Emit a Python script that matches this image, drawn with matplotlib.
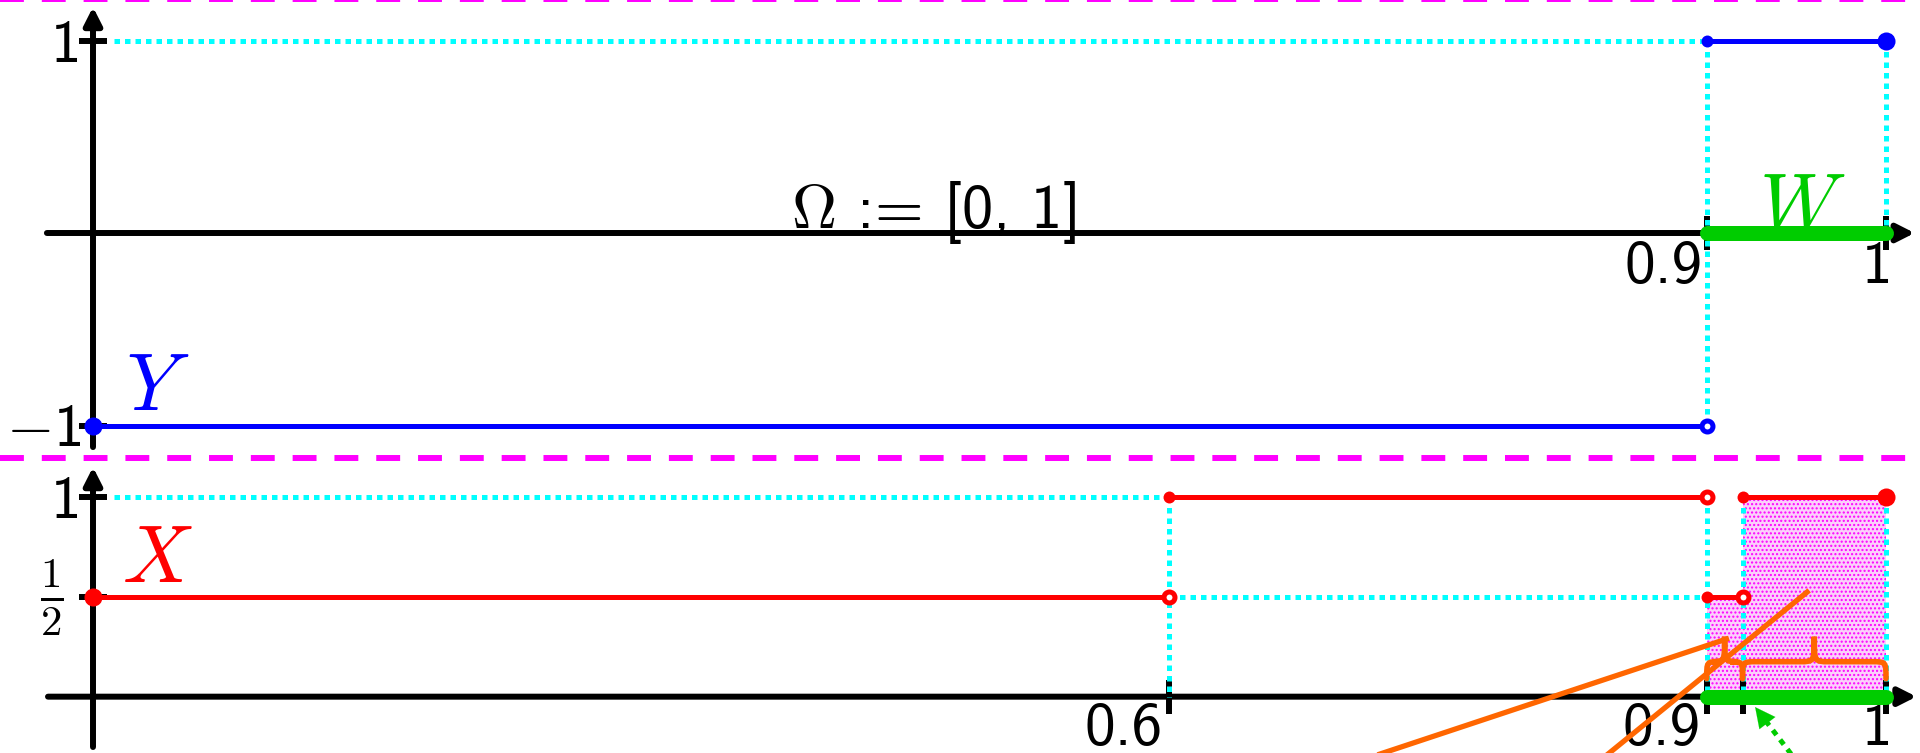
import matplotlib.pyplot as plt
from matplotlib.lines import Line2D
from matplotlib.path import Path
from matplotlib.patches import PathPatch

plt.rcParams['mathtext.fontset'] = 'cm'

# Y on Omega = [0, 1]
y_edges = [0.0, 0.9, 1.0]
y_vals = [-1, 1]
# X, piecewise constant
x_edges = [0.0, 0.6, 0.9, 0.92, 1.0]
x_vals = [0.5, 1, 0.5, 1]
# the event W
w_interval = [0.9, 1.0]

top_xticks = [0.9, 1.0]
top_xlabels = ['0.9', '1']
top_yticks = [1, -1]
top_ylabels = ['1', '$-$1']
bot_xticks = [0.6, 0.9, 0.92, 1.0]
bot_xlabels = ['0.6', '0.9', '', '1']
bot_yticks = [1, 0.5]
bot_ylabels = ['1', r'$\frac{\mathsf{1}}{\mathsf{2}}$']

# leader lines that run off the lower edge
leader_a = ([0.911, 0.673], [0.288, -0.42])
leader_b = ([0.956, 0.813], [0.523, -0.52])
pointer = ([0.967, 0.927], [-0.52, -0.052])

BLUE = '#0000ff'
RED = '#ff0000'
CYAN = '#00ffff'
MAGENTA = '#ff00ff'
GREEN = '#00cc00'
ORANGE = '#ff6600'

AX_LW = 4.3
DOT = (0, (1.1, 1.0))
SANS = 'cmss10'
FS = 44

fig = plt.figure(figsize=(19.2, 7.53), dpi=100)
ax_top = fig.add_axes([0, 295 / 753, 1, 458 / 753])
ax_bot = fig.add_axes([0, 0, 1, 295 / 753])
for ax in (ax_top, ax_bot):
    ax.set_axis_off()
    ax.set_xlim(-93 / 1793, 1827 / 1793)
ax_top.set_ylim(-225 / 192.5, 233 / 192.5)
ax_bot.set_ylim(-56.33 / 200, 238.67 / 200)


def arrow_axes(ax, x0, x1, y0, y1):
    props = dict(arrowstyle='-|>,head_length=0.75,head_width=0.38', lw=AX_LW,
                 color='k', shrinkA=0, shrinkB=0, mutation_scale=14)
    ax.annotate('', xy=(x1, 0), xytext=(x0, 0), arrowprops=props,
                annotation_clip=False, zorder=2)
    ax.annotate('', xy=(0, y1), xytext=(0, y0), arrowprops=props,
                annotation_clip=False, zorder=2)


def ticks(ax, xt, yt, dx, dy):
    for x in xt:
        ax.plot([x, x], [-dy, dy], color='k', lw=AX_LW, solid_capstyle='butt', zorder=2)
    for y in yt:
        ax.plot([-dx, dx], [y, y], color='k', lw=AX_LW, solid_capstyle='butt', zorder=2)


def step_fn(ax, edges, vals, color):
    for i, v in enumerate(vals):
        ax.plot([edges[i], edges[i + 1]], [v, v], color=color, lw=3.6,
                solid_capstyle='butt', zorder=5)
        # closed left end, open right end
        ms = 13 if i == 0 else 8.6
        ax.plot(edges[i], v, 'o', color=color, ms=ms, mew=0, zorder=6)
        if i == len(vals) - 1:
            ax.plot(edges[i + 1], v, 'o', color=color, ms=13, mew=0, zorder=6)
        else:
            ax.plot(edges[i + 1], v, 'o', mfc='white', mec=color, ms=7.9,
                    mew=3.6, zorder=6)


def cyan(ax, xs, ys):
    ax.plot(xs, ys, color=CYAN, lw=3.6, ls=DOT, zorder=3)


def brace(ax, xa, xb, ye, ym, yt, r):
    xc = (xa + xb) / 2
    verts = [(xa, ye), (xa, ym), (xa, ym), (xa + r, ym),
             (xc - r, ym),
             (xc, ym), (xc, ym), (xc, yt),
             (xc, ym), (xc, ym), (xc + r, ym),
             (xb - r, ym),
             (xb, ym), (xb, ym), (xb, ye)]
    C, L = Path.CURVE4, Path.LINETO
    codes = [Path.MOVETO, C, C, C, L, C, C, C, C, C, C, L, C, C, C]
    ax.add_patch(PathPatch(Path(verts, codes), fc='none', ec=ORANGE, lw=4.0,
                           capstyle='round', zorder=4))


# ---- top panel: Y ----
arrow_axes(ax_top, -0.0257, 1.016, -1.112, 1.174)
ticks(ax_top, top_xticks, top_yticks, 0.0078, 0.088)
cyan(ax_top, [0.0115, y_edges[1]], [y_vals[1], y_vals[1]])
cyan(ax_top, [y_edges[1], y_edges[1]], [y_vals[1], y_vals[0]])
cyan(ax_top, [y_edges[2], y_edges[2]], [y_vals[1], 0])
ax_top.plot(w_interval, [0, 0], color=GREEN, lw=10.8, solid_capstyle='round', zorder=4)
step_fn(ax_top, y_edges, y_vals, BLUE)

for x, lab in zip(top_xticks, top_xlabels):
    ax_top.annotate(lab, xy=(x, 0), xytext=(-4 if lab != '1' else 6, -8),
                    textcoords='offset pixels', ha='right', va='top',
                    fontsize=FS, family=SANS)
for y, lab in zip(top_yticks, top_ylabels):
    ax_top.annotate(lab, xy=(0, y), xytext=(-12, 0), textcoords='offset pixels',
                    ha='right', va='center_baseline', fontsize=FS, family=SANS)

ax_top.text(0.036, -0.919, '$Y$', color=BLUE, fontsize=58, ha='center', va='baseline')
ax_top.text(0.953, 0.016, '$W$', color=GREEN, fontsize=58, ha='center', va='baseline')
ax_top.text(0.469, 0.026, r'$\Omega$ := [0, 1]', fontsize=45, family=SANS,
            ha='center', va='baseline', zorder=3)

# ---- bottom panel: X ----
plt.rcParams['hatch.color'] = MAGENTA
ax_bot.fill_between(x_edges[2:], 0, x_vals[2:] + [x_vals[-1]], step='post',
                    facecolor='#fbd0fb', edgecolor=MAGENTA, hatch='....', lw=0, zorder=1)
arrow_axes(ax_bot, -0.0251, 1.017, -0.2517, 1.148)
ticks(ax_bot, bot_xticks, bot_yticks, 0.0078, 0.085)
cyan(ax_bot, [0.0115, x_edges[1]], [1, 1])
cyan(ax_bot, [x_edges[1], x_edges[1]], [1, 0])
cyan(ax_bot, [x_edges[1], x_edges[2]], [0.5, 0.5])
for x in x_edges[2:]:
    cyan(ax_bot, [x, x], [1, 0])
brace(ax_bot, x_edges[2], x_edges[3], 0.09, 0.175, 0.3, 0.007)
brace(ax_bot, x_edges[3], x_edges[4], 0.09, 0.175, 0.3, 0.008)
ax_bot.plot(w_interval, [0, 0], color=GREEN, lw=10.8, solid_capstyle='round', zorder=4)
step_fn(ax_bot, x_edges, x_vals, RED)

for x, lab in zip(bot_xticks, bot_xlabels):
    if lab:
        ax_bot.annotate(lab, xy=(x, 0), xytext=(-6 if lab != '1' else 6, -6),
                        textcoords='offset pixels', ha='right', va='top',
                        fontsize=FS, family=SANS)
ax_bot.annotate(bot_ylabels[0], xy=(0, bot_yticks[0]), xytext=(-12, 0),
                textcoords='offset pixels', ha='right', va='center_baseline',
                fontsize=FS, family=SANS)
ax_bot.annotate(bot_ylabels[1], xy=(0, bot_yticks[1]), xytext=(-30, 0),
                textcoords='offset pixels', ha='right', va='center', fontsize=FS)
ax_bot.text(0.036, 0.573, '$X$', color=RED, fontsize=58, ha='center', va='baseline')

ax_bot.plot(*leader_a, color=ORANGE, lw=3.8, zorder=7)
ax_bot.plot(*leader_b, color=ORANGE, lw=3.8, zorder=7)
px, py = pointer
ax_bot.plot([px[0], px[0] + 0.85 * (px[1] - px[0])], [py[0], py[0] + 0.85 * (py[1] - py[0])],
            color=GREEN, lw=3.6, ls=(0, (1.2, 1.2)), zorder=7)
ax_bot.annotate('', xy=(px[1], py[1]), xytext=(px[0] + 0.8 * (px[1] - px[0]), py[0] + 0.8 * (py[1] - py[0])),
                arrowprops=dict(arrowstyle='-|>,head_length=0.9,head_width=0.45', color=GREEN,
                                lw=0.1, shrinkA=0, shrinkB=0, mutation_scale=16), zorder=7)

# dashed separators
for yf in (1 + 1 / 753, 1 - 458 / 753):
    fig.add_artist(Line2D([0, 1], [yf, yf], transform=fig.transFigure, color=MAGENTA,
                          lw=4.3, ls=(0, (4, 3)), clip_on=False))

fig.savefig('out.png', dpi=100)
